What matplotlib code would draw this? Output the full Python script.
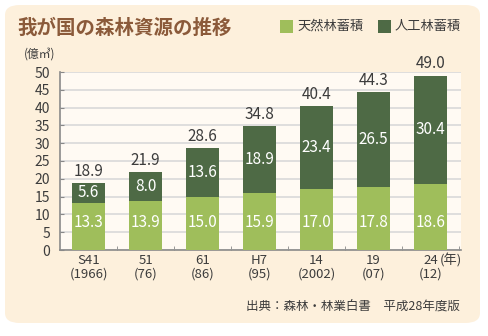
import numpy as np
import matplotlib
matplotlib.use('Agg')
from matplotlib import pyplot as plt
from matplotlib.patches import FancyBboxPatch

plt.rcParams['font.family'] = ['Noto Sans CJK JP', 'DejaVu Sans']

years = ['S41\n(1966)', '51\n(76)', '61\n(86)', 'H7\n(95)', '14\n(2002)', '19\n(07)', '24\n(12)']
natural = [13.3, 13.9, 15.0, 15.9, 17.0, 17.8, 18.6]
planted = [5.6, 8.0, 13.6, 18.9, 23.4, 26.5, 30.4]
totals = [18.9, 21.9, 28.6, 34.8, 40.4, 44.3, 49.0]

c_nat = '#9fbe5b'
c_pla = '#4e6a45'
c_txt = '#3c3c3c'

fig = plt.figure(figsize=(4.88, 3.36), dpi=100)
fig.patch.set_facecolor('white')

# cream rounded panel behind everything
panel = FancyBboxPatch((5 / 488, 13 / 336), 475 / 488, 318 / 336,
                       boxstyle='round,pad=0,rounding_size=0.03',
                       transform=fig.transFigure, facecolor='#fdf0dc',
                       edgecolor='none', zorder=-5)
fig.patches.append(panel)

ax = fig.add_axes([60 / 488, 86 / 336, 401 / 488, 178 / 336])
ax.set_zorder(2)
ax.set_facecolor('#fffaf3')

x = np.arange(len(years))
w = 0.58
ax.bar(x, natural, w, color=c_nat, zorder=3)
ax.bar(x, planted, w, bottom=natural, color=c_pla, zorder=3)

for i in range(len(x)):
    ax.text(x[i], 7.8, f'{natural[i]:.1f}', color='white', ha='center', va='center',
            fontsize=11, zorder=4)
    ax.text(x[i], natural[i] + planted[i] / 2, f'{planted[i]:.1f}', color='white',
            ha='center', va='center', fontsize=11, zorder=4)
    ax.text(x[i], totals[i] + 0.9, f'{totals[i]:.1f}', color=c_txt, ha='center',
            va='bottom', fontsize=11, zorder=4)

ax.set_xlim(-0.5, 6.535)
ax.set_ylim(0, 50)
ax.set_yticks(np.arange(0, 51, 5))
ax.yaxis.grid(True, color='#d9d9d9', linewidth=1.2, zorder=1)
ax.set_axisbelow(True)

ax.set_xticks(x)
ax.set_xticklabels(years, fontsize=9.5, color=c_txt, linespacing=1.0)
ax.tick_params(axis='x', length=0, pad=3)
ax.set_xticks(np.arange(0.5, 7, 1), minor=True)
ax.tick_params(axis='x', which='minor', direction='in', length=3, color='#888888')
ax.tick_params(axis='y', direction='in', length=3, color='#888888', labelsize=10,
               labelcolor=c_txt, pad=7)

for s in ['top', 'right']:
    ax.spines[s].set_visible(False)
for s in ['left', 'bottom']:
    ax.spines[s].set_color('#8a8a8a')
    ax.spines[s].set_linewidth(1.2)

ax.text(6.17, -1.1, '(年)', fontsize=9.5, color=c_txt, ha='left', va='top',
        transform=ax.transData, clip_on=False)

fig.text(17 / 488, 1 - 28 / 336, '我が国の森林資源の推移', fontsize=14, fontweight='bold',
         color='#8b5a3a', ha='left', va='center')
fig.text(40 / 488, 1 - 54 / 336, '(億㎥)', fontsize=8.5, color=c_txt, ha='center',
         va='center')

# legend squares
for lx, col, lab in [(280, c_nat, '天然林蓄積'), (378, c_pla, '人工林蓄積')]:
    fig.patches.append(plt.Rectangle((lx / 488, 1 - 33 / 336), 13 / 488, 13 / 336,
                                     transform=fig.transFigure, facecolor=col,
                                     edgecolor='none'))
    fig.text((lx + 17) / 488, 1 - 26.5 / 336, lab, fontsize=9.5, color=c_txt,
             ha='left', va='center')

fig.text(460 / 488, 1 - 306 / 336, '出典：森林・林業白書　平成28年度版', fontsize=9,
         color=c_txt, ha='right', va='center')

fig.savefig('out.png', dpi=100)
